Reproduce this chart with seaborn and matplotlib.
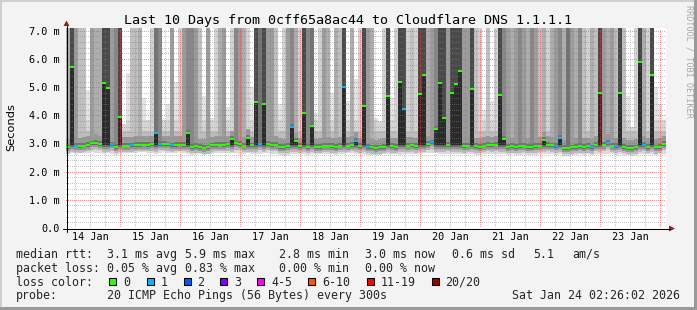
import matplotlib
matplotlib.use("Agg")
import matplotlib.pyplot as plt
import numpy as np
import pandas as pd
import seaborn as sns
from matplotlib.patches import Rectangle, Polygon
from matplotlib.lines import Line2D

# ---------------- data ----------------
title = "Last 10 Days from 0cff65a8ac44 to Cloudflare DNS 1.1.1.1"
span_hours = 240.0           # 10 days ending Sat Jan 24 02:26:02
first_midnight = 21.566      # hours from start to Jan 15 00:00
day_labels = ["14 Jan", "15 Jan", "16 Jan", "17 Jan", "18 Jan",
              "19 Jan", "20 Jan", "21 Jan", "22 Jan", "23 Jan"]
ytick_vals = [0, 1, 2, 3, 4, 5, 6, 7]
ytick_labels = ["0.0", "1.0 m", "2.0 m", "3.0 m", "4.0 m", "5.0 m", "6.0 m", "7.0 m"]

# median rtt per time column (ms)
med = [
    2.86, 5.72, 2.92, 2.90, 2.92, 2.95, 3.00, 3.02, 2.98, 5.15,
    4.98, 2.97, 2.87, 3.93, 2.92, 2.92, 2.93, 2.95, 2.95, 2.96,
    2.95, 2.97, 3.38, 2.98, 2.98, 2.97, 2.93, 2.95, 2.96, 2.95,
    3.37, 2.88, 2.90, 2.87, 2.85, 2.86, 2.93, 2.95, 2.96, 2.95,
    2.97, 3.16, 3.00, 2.98, 2.92, 3.20, 2.93, 4.48, 2.98, 4.41,
    2.98, 2.95, 2.96, 2.88, 2.87, 2.90, 3.59, 3.09, 2.90, 4.09,
    2.88, 3.63, 2.87, 2.88, 2.92, 2.92, 2.90, 2.88, 2.92, 5.01,
    2.92, 2.95, 3.10, 2.90, 4.33, 2.88, 2.86, 2.84, 2.86, 2.88,
    4.68, 2.90, 2.88, 5.19, 4.22, 2.92, 2.93, 2.90, 4.75, 5.44,
    2.98, 3.04, 3.51, 5.15, 3.91, 2.95, 4.80, 5.11, 5.58, 2.90,
    2.92, 4.93, 2.90, 2.88, 2.92, 2.95, 2.93, 2.96, 4.72, 3.16,
    2.88, 2.90, 2.87, 2.90, 2.92, 2.88, 2.87, 2.90, 2.92, 3.12,
    2.95, 2.93, 2.90, 3.20, 2.84, 2.83, 2.86, 2.88, 2.90, 2.88,
    2.90, 2.86, 2.95, 4.80, 2.96, 3.02, 2.92, 2.90, 4.80, 2.88,
    2.84, 2.83, 2.86, 5.90, 2.95, 2.88, 5.44, 2.86, 2.88, 2.98,
]
# lost pings per column (out of 20)
loss = [
    0, 0, 1, 0, 0, 0, 0, 0, 0, 0,
    0, 1, 0, 0, 0, 0, 1, 0, 0, 0,
    0, 0, 1, 1, 0, 0, 1, 0, 0, 0,
    0, 0, 0, 0, 0, 0, 0, 0, 0, 0,
    0, 0, 0, 0, 0, 0, 0, 0, 1, 0,
    0, 0, 0, 0, 0, 0, 1, 0, 0, 0,
    0, 0, 0, 0, 0, 0, 0, 0, 0, 1,
    0, 0, 1, 0, 0, 1, 0, 0, 0, 0,
    0, 0, 0, 0, 1, 0, 0, 0, 0, 0,
    0, 1, 0, 0, 0, 0, 0, 0, 0, 0,
    0, 0, 0, 0, 0, 0, 0, 0, 0, 0,
    0, 0, 0, 0, 0, 0, 0, 0, 0, 0,
    0, 0, 1, 1, 0, 0, 0, 0, 0, 0,
    0, 1, 0, 0, 0, 1, 0, 1, 0, 0,
    0, 0, 0, 0, 1, 0, 0, 0, 0, 0,
]
# smoke density of the upper ping tail (0 light .. 8 dark)
tone = [
    4, 8, 5, 3, 3, 1, 5, 4, 4, 8,
    8, 5, 6, 8, 0, 1, 3, 3, 4, 1,
    0, 2, 7, 6, 0, 1, 5, 1, 2, 5,
    6, 6, 5, 3, 1, 5, 1, 2, 4, 5,
    1, 2, 6, 5, 4, 2, 1, 8, 7, 8,
    5, 5, 3, 1, 2, 5, 6, 4, 2, 8,
    6, 7, 1, 2, 5, 4, 1, 4, 3, 8,
    1, 4, 1, 2, 8, 5, 4, 1, 0, 2,
    8, 1, 2, 8, 8, 2, 3, 2, 8, 8,
    4, 5, 6, 8, 8, 5, 8, 8, 8, 5,
    5, 8, 3, 2, 1, 3, 1, 2, 8, 6,
    5, 4, 5, 6, 5, 4, 6, 5, 3, 4,
    2, 4, 5, 6, 4, 7, 5, 4, 6, 3,
    2, 4, 3, 8, 5, 4, 5, 3, 8, 3,
    1, 0, 2, 8, 4, 2, 8, 1, 1, 0,
]
# highest ping of each column (ms, 7.1 = beyond the top)
reach = [
    7.1, 7.1, 7.1, 7.1, 7.1, 4.9, 7.1, 7.1, 7.1, 7.1,
    7.1, 7.1, 7.1, 7.1, 3.7, 5.5, 7.1, 7.1, 7.1, 4.6,
    4.2, 7.1, 7.1, 7.1, 3.9, 4.4, 7.1, 5.2, 7.1, 7.1,
    7.1, 7.1, 7.1, 7.1, 4.7, 7.1, 3.9, 7.1, 7.1, 7.1,
    4.3, 7.1, 7.1, 7.1, 7.1, 7.1, 5.0, 7.1, 7.1, 7.1,
    7.1, 7.1, 7.1, 4.4, 7.1, 7.1, 7.1, 7.1, 7.1, 7.1,
    7.1, 7.1, 4.1, 7.1, 7.1, 7.1, 4.8, 7.1, 7.1, 7.1,
    4.5, 7.1, 5.3, 7.1, 7.1, 7.1, 7.1, 3.9, 3.8, 7.1,
    7.1, 4.6, 7.1, 7.1, 7.1, 7.1, 7.1, 7.1, 7.1, 7.1,
    7.1, 7.1, 7.1, 7.1, 7.1, 7.1, 7.1, 7.1, 7.1, 7.1,
    7.1, 7.1, 7.1, 7.1, 4.2, 7.1, 4.5, 7.1, 7.1, 7.1,
    7.1, 7.1, 7.1, 7.1, 7.1, 7.1, 7.1, 7.1, 7.1, 7.1,
    7.1, 7.1, 7.1, 7.1, 7.1, 7.1, 7.1, 7.1, 7.1, 7.1,
    7.1, 7.1, 7.1, 7.1, 7.1, 7.1, 7.1, 7.1, 7.1, 7.1,
    4.7, 3.6, 7.1, 7.1, 7.1, 7.1, 7.1, 5.0, 4.4, 4.0,
]
# lowest ping of each column (ms)
lo = [
    2.66, 2.68, 2.64, 2.66, 2.65, 2.67, 2.70, 2.68, 2.66, 2.64,
    2.66, 2.62, 2.60, 2.64, 2.66, 2.67, 2.65, 2.68, 2.69, 2.70,
    2.68, 2.66, 2.64, 2.67, 2.70, 2.68, 2.66, 2.67, 2.69, 2.66,
    2.62, 2.60, 2.62, 2.63, 2.58, 2.61, 2.64, 2.66, 2.67, 2.65,
    2.66, 2.68, 2.67, 2.64, 2.62, 2.65, 2.63, 2.62, 2.64, 2.65,
    2.66, 2.63, 2.62, 2.58, 2.57, 2.60, 2.62, 2.63, 2.61, 2.62,
    2.60, 2.63, 2.62, 2.61, 2.64, 2.63, 2.62, 2.60, 2.63, 2.64,
    2.65, 2.66, 2.64, 2.62, 2.61, 2.60, 2.59, 2.58, 2.60, 2.62,
    2.61, 2.63, 2.62, 2.60, 2.62, 2.64, 2.63, 2.62, 2.64, 2.65,
    2.66, 2.67, 2.65, 2.64, 2.63, 2.64, 2.62, 2.63, 2.64, 2.62,
    2.63, 2.62, 2.60, 2.59, 2.62, 2.64, 2.63, 2.64, 2.62, 2.62,
    2.60, 2.62, 2.58, 2.60, 2.62, 2.60, 2.58, 2.60, 2.62, 2.63,
    2.64, 2.62, 2.60, 2.62, 2.57, 2.56, 2.58, 2.60, 2.62, 2.60,
    2.61, 2.58, 2.62, 2.62, 2.64, 2.63, 2.62, 2.60, 2.61, 2.60,
    2.58, 2.57, 2.59, 2.62, 2.63, 2.61, 2.62, 2.60, 2.61, 2.64,
]

stat_rows = [
    ["median rtt:", "3.1 ms avg", "5.9 ms max", "2.8 ms min", "3.0 ms now", "0.6 ms sd", "5.1", "am/s"],
    ["packet loss:", "0.05 % avg", "0.83 % max", "0.00 % min", "0.00 % now"],
]
loss_names = ["0", "1", "2", "3", "4-5", "6-10", "11-19", "20/20"]
loss_colors = ["#26ff00", "#00b8ff", "#0059ff", "#7e00ff", "#ff00ff", "#ff5500", "#ff0000", "#a10000"]
probe_text = "20 ICMP Echo Pings (56 Bytes) every 300s"
stamp_text = "Sat Jan 24 02:26:02 2026"

# ---------------- figure ----------------
sns.set_style("white")
plt.rcParams['font.family'] = ['DejaVu Sans Mono', 'DejaVu Sans']

W, H = 697, 310
fig = plt.figure(figsize=(W / 100, H / 100), dpi=100, facecolor='#f3f3f3')
ax = fig.add_axes([66 / W, 1 - 228 / H, 600 / W, 200 / H])
ax.set_facecolor('white')

n = len(med)
step = span_hours / n
t = (np.arange(n) + 0.5) * step
top = 7.1
tone_gray = [0.96, 0.89, 0.82, 0.75, 0.68, 0.61, 0.53, 0.45, 0.29]

xs, bots, hts, cols = [], [], [], []
def seg(x, b, tp, g):
    if tp > b:
        xs.append(x); bots.append(b); hts.append(tp - b); cols.append((g, g, g))

for i in range(n):
    m = med[i]
    g = tone_gray[tone[i]]
    core = 2.93 if m > 3.05 else m
    seg(t[i], lo[i], core - 0.22, 0.86)
    seg(t[i], core - 0.22, core - 0.14, 0.73)
    seg(t[i], core - 0.14, core - 0.06, 0.58)
    seg(t[i], core - 0.06, core, 0.42)
    if m > 3.05:
        seg(t[i], core, m, 0.17)
    r = reach[i]
    b1 = m + 0.1
    b2 = m + 0.3
    b3 = max(3.45, b2)
    b4 = max(3.85, b3)
    seg(t[i], m, min(b1, r), min(0.45, g))
    seg(t[i], b1, min(b2, r), min(0.60, g))
    seg(t[i], b2, min(b3, r), min(0.74, g))
    seg(t[i], b3, min(b4, r), min(0.83, g))
    seg(t[i], b4, r, g)

ax.bar(xs, hts, bottom=bots, width=step, color=cols, linewidth=0,
       antialiased=False, zorder=1, align='center')

# grid (dotted, drawn over the smoke)
major_v = [first_midnight + 24 * k for k in range(10)]
minor_v = [first_midnight + 6 * k for k in range(-3, 40)
           if 0 < first_midnight + 6 * k < span_hours and k % 4 != 0]
major_h = [1, 2, 3, 4, 5, 6, 7]
minor_h = [0.2 * k for k in range(1, 36) if k % 5 != 0]

def gridline(xd, yd, color):
    ln = Line2D(xd, yd, color=color, lw=0.72, dashes=(1, 2), antialiased=False, zorder=2)
    ax.add_line(ln)

for v in minor_v:
    gridline([v, v], [0, top], (0.5, 0.5, 0.5, 0.45))
for h in minor_h:
    gridline([0, span_hours], [h, h], (0.5, 0.5, 0.5, 0.45))
for v in major_v:
    gridline([v, v], [0, top], (0.95, 0.25, 0.25, 0.55))
for h in major_h:
    gridline([0, span_hours], [h, h], (0.95, 0.25, 0.25, 0.55))

# median marks coloured by loss
df = pd.DataFrame({"t": t, "med": med, "loss": loss})
rect = [(-1, -0.5), (1, -0.5), (1, 0.5), (-1, 0.5)]
sns.scatterplot(data=df, x="t", y="med", hue="loss",
                palette={k: loss_colors[k] for k in sorted(set(loss))},
                marker=rect, s=8.3, linewidth=0, legend=False, ax=ax, zorder=4)

ax.set_xlim(0, span_hours)
ax.set_ylim(0, top)
ax.set_xlabel("")
ax.set_ylabel("")
ax.grid(False)
for s in ax.spines.values():
    s.set_visible(False)
noon = [first_midnight - 12 + 24 * k for k in range(len(day_labels))]
ax.set_xticks(noon)
ax.set_xticklabels(day_labels)
ax.set_yticks(ytick_vals)
ax.set_yticklabels(ytick_labels)
ax.tick_params(axis='x', length=0, pad=3.2, labelsize=7.3, colors='black')
ax.tick_params(axis='y', length=0, pad=4.6, labelsize=7.3, colors='black')

# ---------------- overlay (pixel coordinates) ----------------
ov = fig.add_axes([0, 0, 1, 1], zorder=10)
ov.set_xlim(0, W)
ov.set_ylim(H, 0)
ov.axis('off')

# frame
ov.add_patch(Rectangle((0, 0), W, 2, color='#cfcfcf', lw=0))
ov.add_patch(Rectangle((0, 0), 2, H, color='#cfcfcf', lw=0))
ov.add_patch(Rectangle((0, H - 3.5), W, 3.5, color='#9a9a9a', lw=0))
ov.add_patch(Rectangle((W - 3, 0), 3, H, color='#9a9a9a', lw=0))

# axes lines + arrows
ov.add_line(Line2D([66.5, 66.5], [231.5, 25.5], color='black', lw=0.72))
ov.add_line(Line2D([62.5, 669.5], [228.5, 228.5], color='black', lw=0.72))
ov.add_patch(Polygon([(63.5, 26), (69.5, 26), (66.5, 20.5)], closed=True, color='#9b1c1c', lw=0))
ov.add_patch(Polygon([(669, 225.5), (669, 231.5), (675, 228.5)], closed=True, color='#9b1c1c', lw=0))

# title, labels
ov.text(348, 24, title, ha='center', va='baseline', fontsize=9.6, color='black')
ov.text(11.5, 127.5, "Seconds", rotation=90, ha='center', va='center',
        fontsize=8.2, family=['DejaVu Sans'], color='black')
ov.text(688.5, 5, "RRDTOOL / TOBI OETIKER", rotation=270, ha='center', va='top',
        fontsize=6.1, color='#a8a8a8')

fs = 8.4
x1 = [16, 107, 185, 279, 365, 452, 533, 572]
for xp, s in zip(x1, stat_rows[0]):
    ov.text(xp, 257.7, s, ha='left', va='baseline', fontsize=fs)
for xp, s in zip(x1, stat_rows[1]):
    ov.text(xp, 271.7, s, ha='left', va='baseline', fontsize=fs)

ov.text(16, 285.7, "loss color:", ha='left', va='baseline', fontsize=fs)
box_x = [108, 146, 183, 219, 256, 307, 366, 431]
lab_x = [123, 161, 197, 234, 271, 322, 381, 445]
for bx, lx, name, c in zip(box_x, lab_x, loss_names, loss_colors):
    ov.add_patch(Rectangle((bx + 0.5, 278.2), 7, 7, facecolor=c, edgecolor='black', lw=0.75))
    ov.text(lx, 285.7, name, ha='left', va='baseline', fontsize=fs)

ov.text(16, 299.3, "probe:", ha='left', va='baseline', fontsize=fs)
ov.text(107, 299.3, probe_text, ha='left', va='baseline', fontsize=fs)
ov.text(680, 299.3, stamp_text, ha='right', va='baseline', fontsize=fs)

fig.savefig("out.png", dpi=100, facecolor=fig.get_facecolor())
